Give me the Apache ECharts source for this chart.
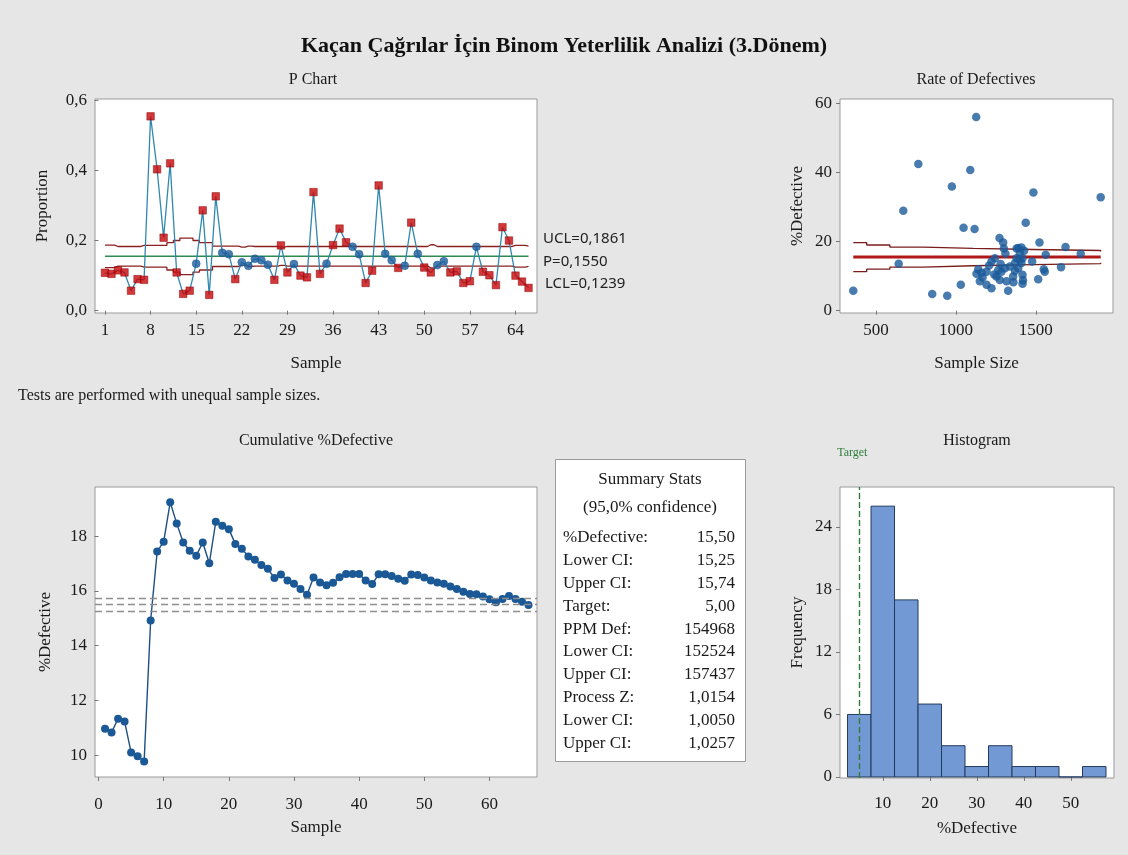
<!DOCTYPE html>
<html><head><meta charset="utf-8">
<script src="https://cdn.jsdelivr.net/npm/echarts@6/dist/echarts.min.js"></script>
<style>html,body{margin:0;padding:0;background:#e6e6e6;} #c{width:1128px;height:855px;}</style>
</head><body><div id="c"></div>
<script>
// ---------------- DATA ----------------
const mainTitle = 'Kaçan Çağrılar İçin Binom Yeterlilik Analizi (3.Dönem)';

// P chart
const pValues = [0.108,0.105,0.115,0.109,0.057,0.090,0.088,0.554,0.403,0.208,
  0.420,0.109,0.048,0.057,0.134,0.286,0.045,0.326,0.165,0.161,
  0.090,0.138,0.128,0.148,0.144,0.131,0.088,0.186,0.109,0.133,
  0.100,0.095,0.338,0.105,0.134,0.187,0.234,0.195,0.182,0.161,
  0.079,0.114,0.357,0.162,0.144,0.122,0.128,0.251,0.162,0.123,
  0.109,0.130,0.141,0.109,0.112,0.079,0.084,0.182,0.111,0.101,
  0.073,0.238,0.200,0.100,0.083,0.065];
const failedSamples = [1,2,3,4,5,6,7,8,9,10,11,12,13,14,16,17,18,21,27,28,29,31,32,33,34,36,37,38,
  41,42,43,46,48,50,51,54,55,56,57,59,60,61,62,63,64,65,66];
const pBar = 0.1550;
const uclValues = [0.187,0.187,0.183,0.183,0.183,0.183,0.186,0.186,0.186,0.186,
  0.194,0.200,0.207,0.207,0.200,0.194,0.194,0.184,0.184,0.184,
  0.184,0.181,0.184,0.183,0.183,0.183,0.183,0.181,0.183,0.183,
  0.183,0.183,0.183,0.183,0.183,0.183,0.183,0.183,0.183,0.183,
  0.183,0.183,0.183,0.183,0.183,0.183,0.183,0.183,0.183,0.183,
  0.188,0.183,0.183,0.183,0.183,0.183,0.183,0.183,0.183,0.183,
  0.183,0.183,0.183,0.186,0.186,0.184];
const lclValues = [0.123,0.123,0.127,0.127,0.127,0.127,0.124,0.124,0.124,0.124,
  0.116,0.110,0.103,0.103,0.110,0.116,0.116,0.126,0.126,0.126,
  0.126,0.129,0.126,0.127,0.127,0.127,0.127,0.129,0.127,0.127,
  0.127,0.127,0.127,0.127,0.127,0.127,0.127,0.127,0.127,0.127,
  0.127,0.127,0.127,0.127,0.127,0.127,0.127,0.127,0.127,0.127,
  0.122,0.127,0.127,0.127,0.127,0.127,0.127,0.127,0.127,0.127,
  0.127,0.127,0.127,0.124,0.124,0.126];
const pXTicks = [1,8,15,22,29,36,43,50,57,64];
const pYTicks = [0,0.2,0.4,0.6];
const limitLabels = ['UCL=0,1861','P=0,1550','LCL=0,1239'];

// Rate of defectives
const rateSampleSize = [358,642,671,765,852,946,975,1031,1048,1090,1117,1127,1273,1296,1437,1485,1523,1562,1515,1556,
  1550,1658,1686,1781,1906,1327,1417,1477,
  1129,1150,1167,1192,1208,1223,1192,1223,1254,1275,1285,1306,1265,1244,1300,1310,1338,1358,1370,1380,
  1390,1410,1400,1417,1410,1417,1390,1427,1400,1370,1317,1140,1160,1240,1380,1420,1360,1280];
const ratePctDefective = [5.8,13.6,28.9,42.4,4.8,4.3,35.9,7.5,24.0,40.7,23.6,56.0,21.0,19.7,25.4,34.2,19.7,16.2,9.1,11.3,
  12.0,12.6,18.4,16.5,32.8,5.8,7.8,14.2,
  10.7,8.5,9.6,11.3,13.1,14.2,7.5,6.5,9.9,8.9,11.3,12.3,11.8,15.2,18.0,16.5,12.8,9.9,13.8,15.2,
  18.1,18.3,16.7,15.2,13.8,10.4,12.3,17.3,14.7,11.5,8.5,12.0,11.0,10.5,18.0,8.8,8.2,13.5];
const rateLimitN = [358,442,587,796,1108,1483,1906];
const rateUcl = [19.7,19.0,18.4,18.0,17.7,17.4,17.1];
const rateLcl = [11.3,12.0,12.6,13.0,13.3,13.6,13.9];
const rateCenter = 15.5;
const rateXTicks = [500,1000,1500];
const rateYTicks = [0,20,40,60];

// Cumulative %Defective
const cumPct = [10.96,10.83,11.33,11.23,10.10,9.96,9.77,14.92,17.44,17.80,
  19.24,18.47,17.77,17.47,17.29,17.77,17.01,18.53,18.38,18.26,
  17.72,17.54,17.26,17.14,16.95,16.81,16.47,16.60,16.38,16.26,
  16.07,15.86,16.49,16.31,16.21,16.30,16.50,16.62,16.62,16.62,
  16.38,16.25,16.61,16.61,16.55,16.45,16.37,16.60,16.58,16.49,
  16.38,16.31,16.26,16.16,16.07,15.97,15.89,15.88,15.80,15.70,
  15.59,15.71,15.82,15.71,15.61,15.49];
const cumCI = [15.25,15.50,15.74];
const cumXTicks = [0,10,20,30,40,50,60];
const cumYTicks = [10,12,14,16,18];

// Histogram
const histBinStart = [2.5,7.5,12.5,17.5,22.5,27.5,32.5,37.5,42.5,47.5,52.5];
const histBinWidth = 5;
const histCounts = [6,26,17,7,3,1,3,1,1,0,1];
const histXTicks = [10,20,30,40,50];
const histYTicks = [0,6,12,18,24];
const targetPct = 5;

// Summary stats
const summaryHeader = ['Summary Stats','(95,0% confidence)'];
const summaryLabels = ['%Defective:','Lower CI:','Upper CI:','Target:','PPM Def:','Lower CI:','Upper CI:','Process Z:','Lower CI:','Upper CI:'];
const summaryValues = ['15,50','15,25','15,74','5,00','154968','152524','157437','1,0154','1,0050','1,0257'];

const noteText = 'Tests are performed with unequal sample sizes.';

// ---------------- CHART ----------------
const serif = '"Liberation Serif","Times New Roman",serif';
const sans = '"Noto Sans","Open Sans",sans-serif';
const txt = '#1a1a1a';
const sampleNums = pValues.map((_, i) => i + 1);

function axis(o) {
  const ticks = o.ticks;
  return {
    type: 'value', min: o.min, max: o.max, gridIndex: o.grid,
    name: o.name, nameLocation: 'middle', nameGap: o.nameGap, nameRotate: o.rotate || 0,
    nameTextStyle: {fontFamily: serif, fontSize: 17, color: txt},
    axisLine: {show: false},
    splitLine: {show: false},
    axisTick: {show: true, length: 4, lineStyle: {color: '#777'}, customValues: ticks},
    axisLabel: {fontFamily: serif, fontSize: 17, color: txt, margin: o.margin, customValues: ticks,
      formatter: o.fmt || (v => String(v))}
  };
}

const commaFmt = v => v.toFixed(1).replace('.', ',');

const option = {
  backgroundColor: '#e6e6e6',
  animation: false,
  grid: [
    {left: 95, top: 99, width: 442, height: 214, show: true, backgroundColor: '#fff', borderColor: '#9a9a9a', borderWidth: 1},
    {left: 840, top: 99, width: 273, height: 214, show: true, backgroundColor: '#fff', borderColor: '#9a9a9a', borderWidth: 1},
    {left: 95, top: 487, width: 442, height: 290, show: true, backgroundColor: '#fff', borderColor: '#9a9a9a', borderWidth: 1},
    {left: 840, top: 487, width: 274, height: 291, show: true, backgroundColor: '#fff', borderColor: '#9a9a9a', borderWidth: 1}
  ],
  xAxis: [
    axis({grid: 0, min: -0.53, max: 67.3, ticks: pXTicks, name: 'Sample', nameGap: 42, margin: 9}),
    axis({grid: 1, min: 275, max: 1983, ticks: rateXTicks, name: 'Sample Size', nameGap: 42, margin: 9}),
    axis({grid: 2, min: -0.54, max: 67.3, ticks: cumXTicks, name: 'Sample', nameGap: 42, margin: 19}),
    axis({grid: 3, min: 0.9, max: 59.2, ticks: histXTicks, name: '%Defective', nameGap: 42, margin: 17})
  ],
  yAxis: [
    axis({grid: 0, min: -0.0066, max: 0.6034, ticks: pYTicks, name: 'Proportion', nameGap: 44, rotate: 90, margin: 8, fmt: commaFmt}),
    axis({grid: 1, min: -0.66, max: 61.2, ticks: rateYTicks, name: '%Defective', nameGap: 34, rotate: 90, margin: 8}),
    axis({grid: 2, min: 9.2, max: 19.8, ticks: cumYTicks, name: '%Defective', nameGap: 41, rotate: 90, margin: 8}),
    axis({grid: 3, min: -0.1, max: 27.84, ticks: histYTicks, name: 'Frequency', nameGap: 34, rotate: 90, margin: 8})
  ],
  series: [
    {type: 'line', xAxisIndex: 0, yAxisIndex: 0, step: 'middle', symbol: 'none',
      data: sampleNums.map((s, i) => [s, uclValues[i]]), lineStyle: {color: '#8b2020', width: 1.3}, z: 2},
    {type: 'line', xAxisIndex: 0, yAxisIndex: 0, step: 'middle', symbol: 'none',
      data: sampleNums.map((s, i) => [s, lclValues[i]]), lineStyle: {color: '#8b2020', width: 1.3}, z: 2},
    {type: 'line', xAxisIndex: 0, yAxisIndex: 0, symbol: 'none',
      data: [[sampleNums[0], pBar], [sampleNums[sampleNums.length - 1], pBar]], lineStyle: {color: '#2f8a52', width: 1.6}, z: 2},
    {type: 'line', xAxisIndex: 0, yAxisIndex: 0, symbol: 'none',
      data: sampleNums.map((s, i) => [s, pValues[i]]), lineStyle: {color: '#3088b0', width: 1.3}, z: 3},
    {type: 'scatter', xAxisIndex: 0, yAxisIndex: 0, z: 4,
      data: sampleNums.map((s, i) => {
        const bad = failedSamples.includes(s);
        return {value: [s, pValues[i]], symbol: bad ? 'rect' : 'circle', symbolSize: bad ? 7.5 : 8,
          itemStyle: {color: bad ? '#c8060a' : '#1c5c9c', borderColor: bad ? '#8a0000' : '#1c5c9c', borderWidth: 0.6}};
      })},
    {type: 'line', xAxisIndex: 1, yAxisIndex: 1, step: 'end', symbol: 'none',
      data: rateLimitN.map((n, i) => [n, rateUcl[i]]), lineStyle: {color: '#7a1c1c', width: 1.3}, z: 2},
    {type: 'line', xAxisIndex: 1, yAxisIndex: 1, step: 'end', symbol: 'none',
      data: rateLimitN.map((n, i) => [n, rateLcl[i]]), lineStyle: {color: '#7a1c1c', width: 1.3}, z: 2},
    {type: 'line', xAxisIndex: 1, yAxisIndex: 1, symbol: 'none',
      data: [[rateLimitN[0], rateCenter], [rateLimitN[rateLimitN.length - 1], rateCenter]], lineStyle: {color: '#b01818', width: 3}, z: 2},
    {type: 'scatter', xAxisIndex: 1, yAxisIndex: 1, symbol: 'circle', symbolSize: 8.5, z: 4,
      data: rateSampleSize.map((n, i) => [n, ratePctDefective[i]]), itemStyle: {color: '#1a5a9a'}},
    {type: 'line', xAxisIndex: 2, yAxisIndex: 2, symbol: 'circle', symbolSize: 8, z: 4,
      data: sampleNums.map((s, i) => [s, cumPct[i]]),
      itemStyle: {color: '#1a5896'}, lineStyle: {color: '#1d4f80', width: 1.4},
      markLine: {symbol: 'none', silent: true, label: {show: false},
        lineStyle: {type: [7, 4], color: '#8e8e8e', width: 1.4},
        data: cumCI.map(v => ({yAxis: v}))}},
    {type: 'custom', xAxisIndex: 3, yAxisIndex: 3, z: 3,
      data: histBinStart.map((s, i) => [s, s + histBinWidth, histCounts[i]]),
      renderItem: function (params, api) {
        const p0 = api.coord([api.value(0), api.value(2)]);
        const p1 = api.coord([api.value(1), 0]);
        return {type: 'rect', shape: {x: p0[0], y: p0[1], width: p1[0] - p0[0], height: p1[1] - p0[1]},
          style: {fill: '#7299d3', stroke: '#233a5e', lineWidth: 1}};
      }},
    {type: 'line', xAxisIndex: 3, yAxisIndex: 3, symbol: 'none', data: [], z: 5,
      markLine: {symbol: 'none', silent: true,
        lineStyle: {type: [6, 3], color: '#2e7d3a', width: 1.4},
        label: {show: true, position: 'end', formatter: 'Target', color: '#2e7d3a', fontFamily: serif, fontSize: 12, distance: 28, offset: [-7, 0]},
        data: [{xAxis: targetPct}]}}
  ],
  graphic: [
    {type: 'text', x: 564, y: 46, style: {text: mainTitle, fontFamily: serif, fontSize: 22, fontWeight: 'bold', fill: '#111', align: 'center', verticalAlign: 'middle'}},
    {type: 'text', x: 313, y: 80, style: {text: 'P Chart', fontFamily: serif, fontSize: 16, fill: txt, align: 'center', verticalAlign: 'middle'}},
    {type: 'text', x: 976, y: 80, style: {text: 'Rate of Defectives', fontFamily: serif, fontSize: 16, fill: txt, align: 'center', verticalAlign: 'middle'}},
    {type: 'text', x: 316, y: 441, style: {text: 'Cumulative %Defective', fontFamily: serif, fontSize: 16, fill: txt, align: 'center', verticalAlign: 'middle'}},
    {type: 'text', x: 977, y: 441, style: {text: 'Histogram', fontFamily: serif, fontSize: 16, fill: txt, align: 'center', verticalAlign: 'middle'}},
    {type: 'text', x: 18, y: 396, style: {text: noteText, fontFamily: serif, fontSize: 16, fill: txt, align: 'left', verticalAlign: 'middle'}},
    {type: 'text', x: 543, y: 239, style: {text: limitLabels[0], fontFamily: sans, fontSize: 15, fill: '#222', align: 'left', verticalAlign: 'middle'}},
    {type: 'text', x: 543, y: 262, style: {text: limitLabels[1], fontFamily: sans, fontSize: 15, fill: '#222', align: 'left', verticalAlign: 'middle'}},
    {type: 'text', x: 545, y: 284, style: {text: limitLabels[2], fontFamily: sans, fontSize: 15, fill: '#222', align: 'left', verticalAlign: 'middle'}},
    {type: 'rect', shape: {x: 555.5, y: 459.5, width: 190, height: 302}, style: {fill: '#fff', stroke: '#9a9a9a', lineWidth: 1}},
    {type: 'text', x: 650, y: 480, style: {text: summaryHeader[0], fontFamily: serif, fontSize: 17, fill: txt, align: 'center', verticalAlign: 'middle'}},
    {type: 'text', x: 650, y: 508, style: {text: summaryHeader[1], fontFamily: serif, fontSize: 17, fill: txt, align: 'center', verticalAlign: 'middle'}}
  ].concat(summaryLabels.map((l, i) => ({type: 'text', x: 563, y: 538 + i * 22.8,
      style: {text: l, fontFamily: serif, fontSize: 17, fill: txt, align: 'left', verticalAlign: 'middle'}})))
   .concat(summaryValues.map((v, i) => ({type: 'text', x: 735, y: 538 + i * 22.8,
      style: {text: v, fontFamily: serif, fontSize: 17, fill: txt, align: 'right', verticalAlign: 'middle'}})))
};

const chart = echarts.init(document.getElementById('c'));
chart.setOption(option);
</script>
</body></html>
